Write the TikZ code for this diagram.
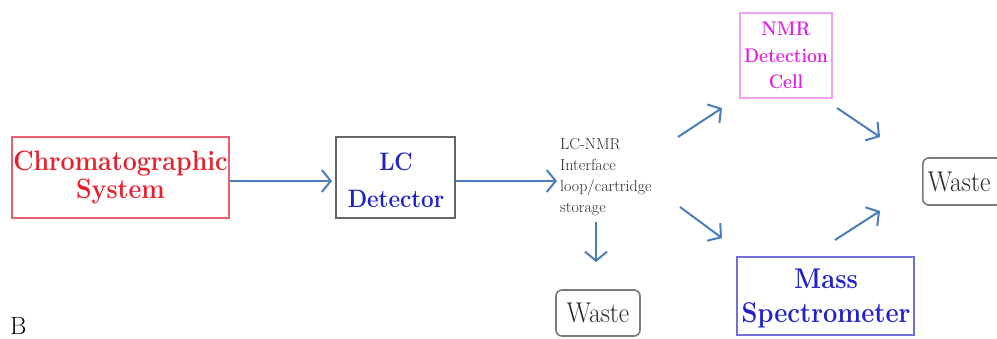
\documentclass[tikz,border=0pt]{standalone}
\usetikzlibrary{arrows.meta}
\definecolor{arrowblue}{HTML}{4A7EBB}
\definecolor{chromred}{HTML}{E8202E}
\definecolor{chromborder}{HTML}{E86070}
\definecolor{lcblue}{HTML}{2222CC}
\definecolor{nmrmag}{HTML}{E020E0}
\definecolor{nmrborder}{HTML}{F0A0F0}
\definecolor{massborder}{HTML}{7070D8}
\definecolor{wastegray}{HTML}{7A7A7A}
\definecolor{txtgray}{HTML}{2A2A2A}
\newcommand\vst[1]{\scalebox{1}[1.12]{#1}}
\tikzset{
  flow/.style={draw=arrowblue, line width=2pt, -{Straight Barb[length=9pt,width=22pt,line width=2pt]}},
  boxbase/.style={rectangle, line width=1.8pt, align=center, inner sep=0pt, fill=white},
  chrombox/.style={boxbase, draw=chromborder, text=chromred, font=\fontsize{25}{28}\selectfont\bfseries},
  lcbox/.style={boxbase, draw=gray!80!black},
  lctext/.style={align=center, inner sep=0pt, text=lcblue, font=\fontsize{22.5}{37}\selectfont\bfseries},
  nmrbox/.style={boxbase, draw=nmrborder, line width=1.4pt, text=nmrmag, font=\fontsize{17.6}{26.5}\selectfont\bfseries},
  massbox/.style={boxbase, draw=massborder},
  masstext/.style={align=center, inner sep=0pt, text=lcblue, font=\fontsize{25.5}{34}\selectfont\bfseries},
  wastebox/.style={rectangle, rounded corners=6pt, draw=wastegray, line width=1.6pt, text=black!85, font=\fontsize{25.5}{28}\selectfont, inner sep=0pt},
  iface/.style={align=left, text=txtgray, inner sep=0pt, font=\fontsize{16}{21}\selectfont}
}
\begin{document}
\begin{tikzpicture}[x=1pt,y=-1pt]
\useasboundingbox (0,0) rectangle (997,339);
\clip (0,0) rectangle (997,339);
\node[chrombox, minimum width=217pt, minimum height=81pt] (chrom) at (120.5,177.5) {\vst{Chromatographic}\\\vst{System}};
\node[lcbox, minimum width=119pt, minimum height=81pt] (lc) at (395.5,177.5) {};
\node[lctext] (lctxt) at (396,180) {\vst{LC}\\\vst{Detector}};
\node[iface, anchor=north west] (iface) at (560,138) {LC-NMR\\Interface\\loop/cartridge\\storage};
\node[nmrbox, minimum width=92pt, minimum height=85pt] (nmr) at (786,55.5) {\vst{NMR}\\\vst{Detection}\\\vst{Cell}};
\node[massbox, minimum width=177pt, minimum height=78pt] (mass) at (825.5,296) {};
\node[masstext] (masstxt) at (826,298) {\vst{Mass}\\\vst{Spectrometer}};
\node[wastebox, minimum width=84pt, minimum height=46pt] (waste1) at (598,313) {\vst{Waste}};
\node[wastebox, minimum width=84pt, minimum height=47pt, anchor=west, text width=80pt, align=left] (waste2) at (922,181.5) {\hspace*{3pt}\vst{Waste}};
\node[font=\fontsize{25}{26}\selectfont, anchor=base west, inner sep=0pt] (blabel) at (10,335) {B};
% connector coordinates
\coordinate (ifaceIn) at (557,181);
\coordinate (ifaceDownStart) at (596,222);
\coordinate (ifaceDownEnd) at (596,262);
\coordinate (upS) at (678,137);
\coordinate (upE) at (722,108);
\coordinate (dnS) at (680,207);
\coordinate (dnE) at (722,238);
\coordinate (nmrS) at (837,108);
\coordinate (nmrE) at (880,137);
\coordinate (massS) at (835,240);
\coordinate (massE) at (880,211);
\draw[flow] (chrom.east |- 0,181) -- ([xshift=-3pt]lc.west |- 0,181);
\draw[flow] (lc.east |- 0,181) -- (ifaceIn);
\draw[flow] (ifaceDownStart) -- (ifaceDownEnd);
\draw[flow] (upS) -- (upE);
\draw[flow] (dnS) -- (dnE);
\draw[flow] (nmrS) -- (nmrE);
\draw[flow] (massS) -- (massE);
\end{tikzpicture}
\end{document}
